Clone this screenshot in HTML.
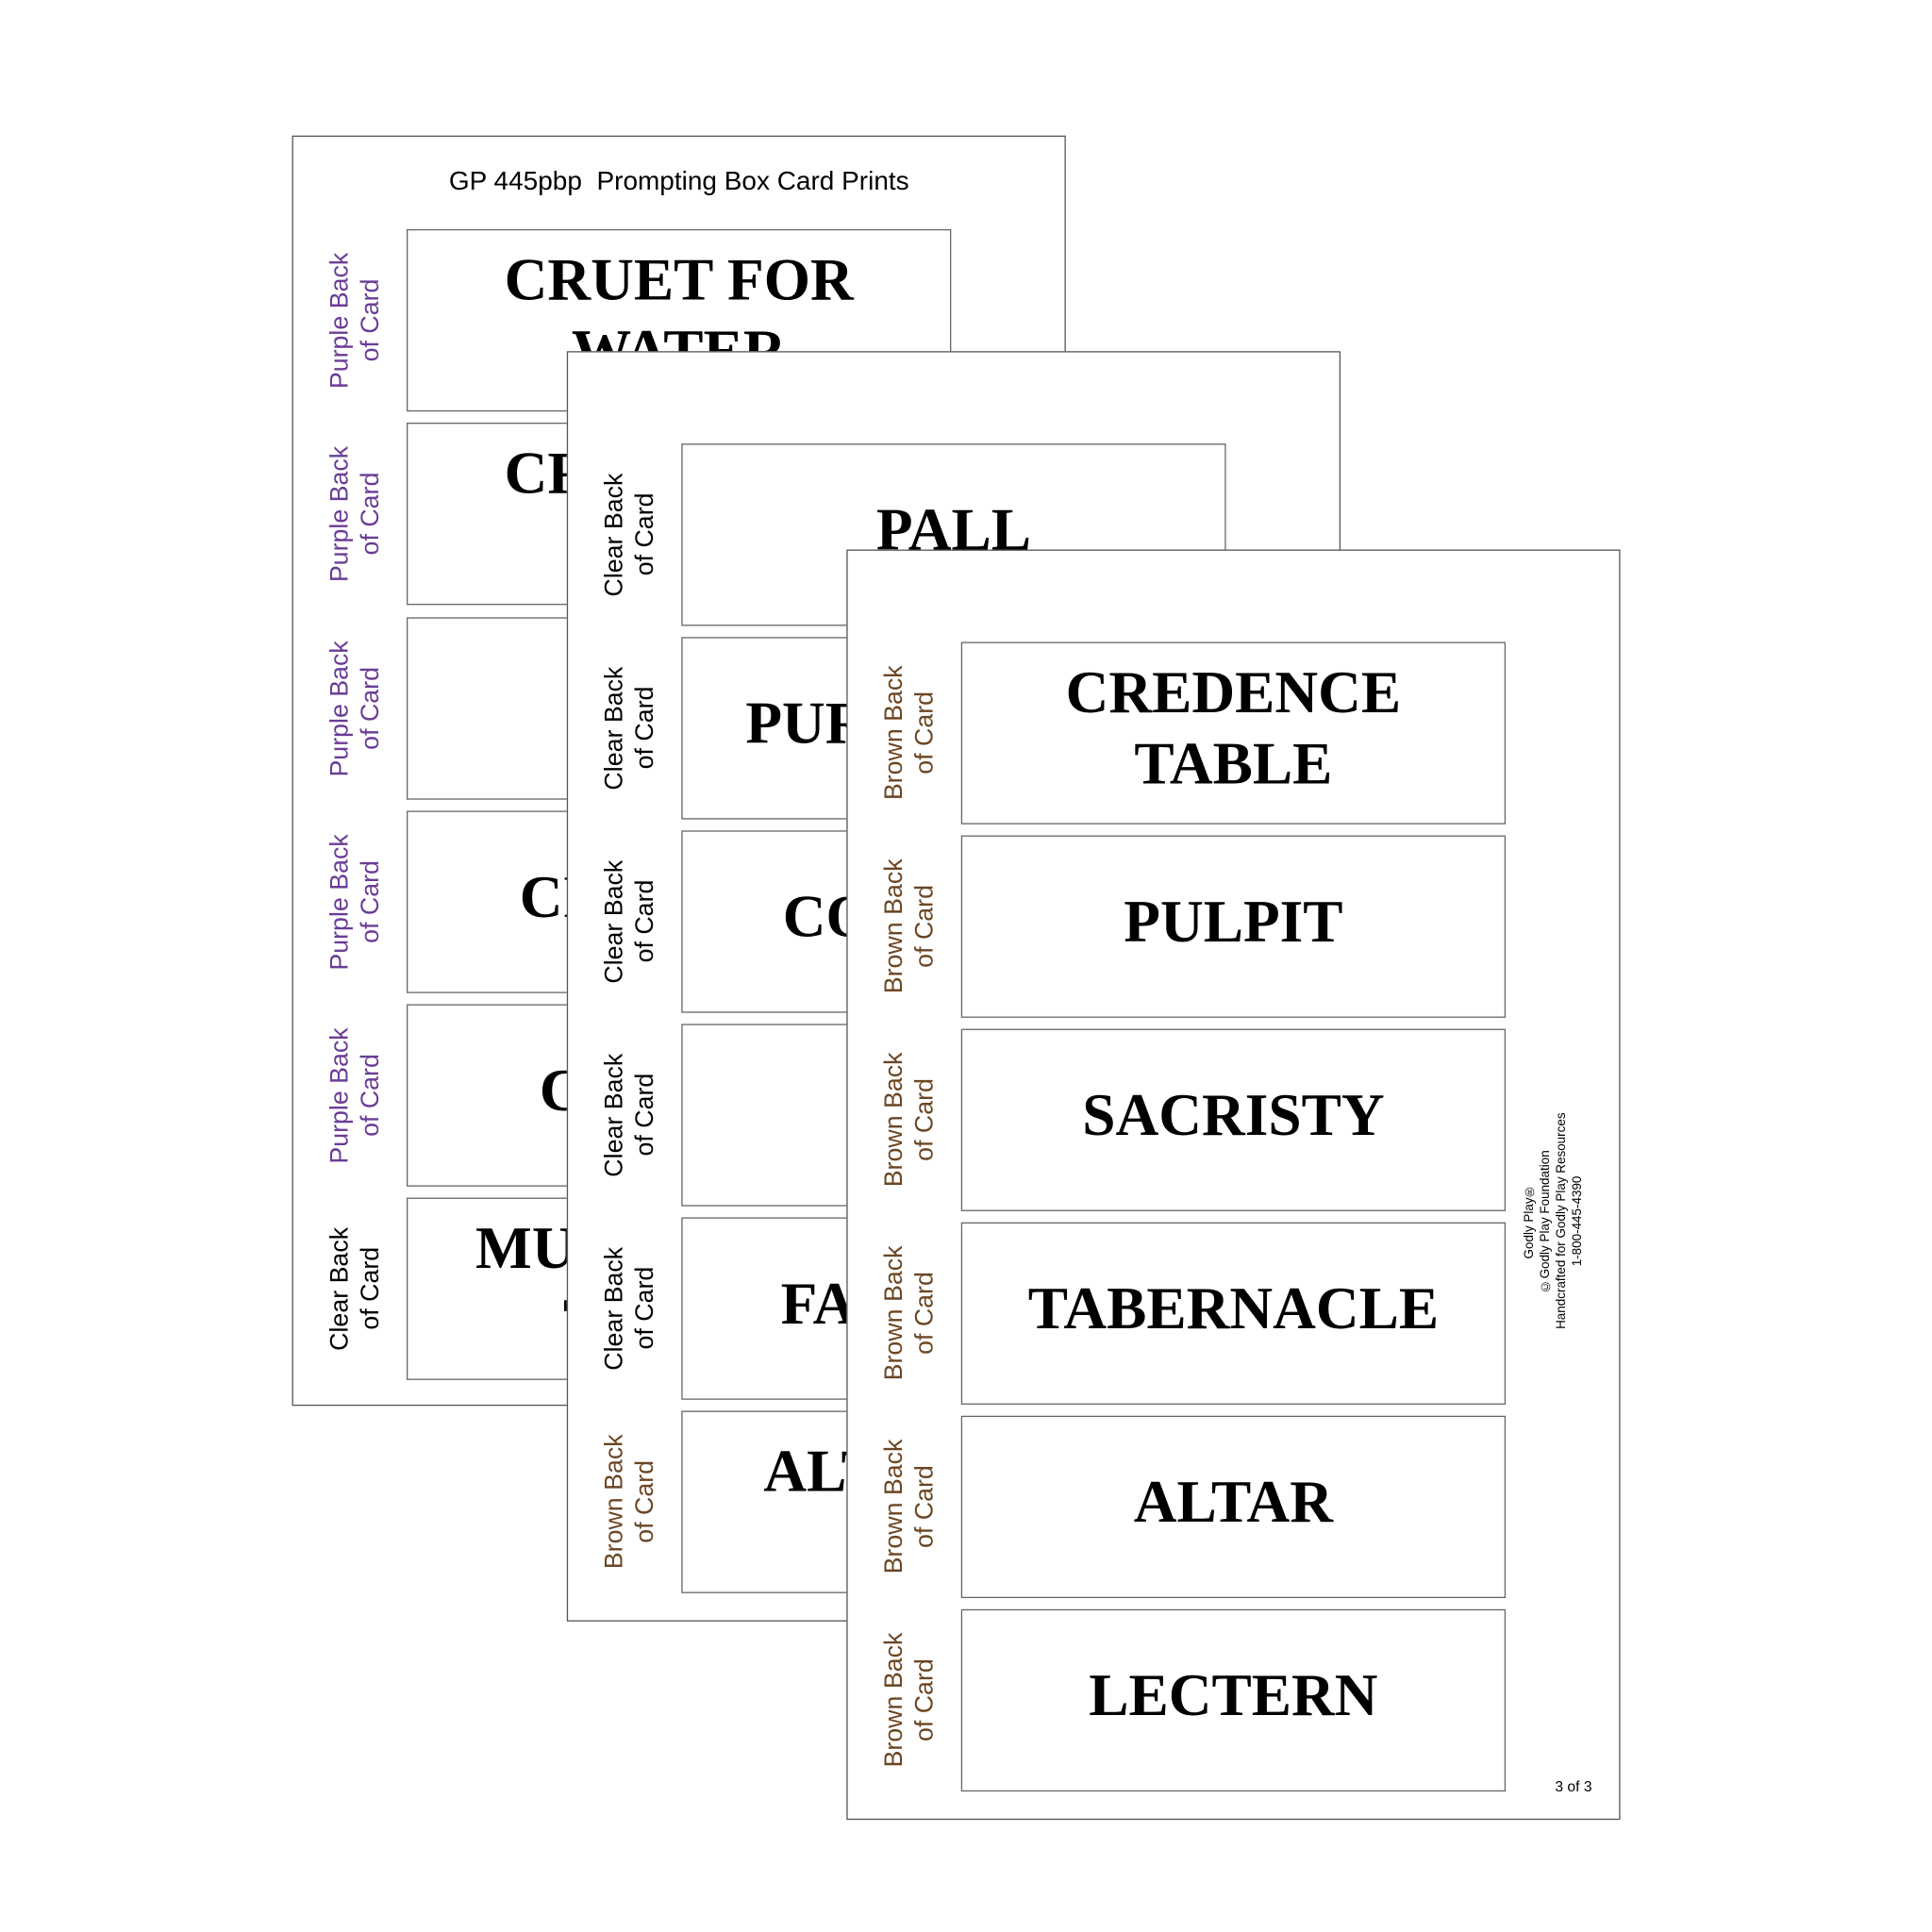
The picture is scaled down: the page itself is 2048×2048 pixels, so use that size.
<!DOCTYPE html>
<html><head><meta charset="utf-8"><style>
html,body{margin:0;padding:0;background:#fff;width:2048px;height:2048px;overflow:hidden}
#w{position:absolute;left:0;top:0;width:1568px;height:1568px;transform:scale(1.30612);transform-origin:0 0}
.page{position:absolute;width:628px;height:1031px;background:#fff;border:1px solid #555;box-sizing:border-box}
.card{position:absolute;left:92px;width:442px;height:148px;border:1.3px solid #666;box-sizing:border-box;display:flex;align-items:center;justify-content:center;text-align:center;font-family:"Liberation Serif",serif;font-weight:bold;font-size:48.5px;line-height:58px;color:#000;white-space:nowrap;padding-bottom:6px}
.card.top{align-items:flex-start;padding-top:20px}
.lab{position:absolute;left:20px;width:60px;height:148px;display:flex;align-items:center;justify-content:center}
.lab span{writing-mode:vertical-rl;transform:rotate(180deg);font-family:"Liberation Sans",sans-serif;font-size:20.5px;line-height:25px;text-align:center;white-space:nowrap}
.p{color:#6a3d96}.b{color:#6b4624}.c{color:#000}
</style></head><body><div id="w">

<div class="page" style="left:237px;top:110px">
<div style="position:absolute;left:0;width:626px;top:25px;text-align:center;font-family:'Liberation Sans',sans-serif;font-size:21px;"><span style="display:inline-block;transform:scaleX(1.02)">GP 445pbp&nbsp; Prompting Box Card Prints</span></div>
<div class="lab" style="top:75px"><span class="p">Purple Back<br>of Card</span></div>
<div class="card" style="top:75px">CRUET FOR<br>WATER</div>
<div class="lab" style="top:232px"><span class="p">Purple Back<br>of Card</span></div>
<div class="card" style="top:232px">CRUET FOR<br>WINE</div>
<div class="lab" style="top:390px"><span class="p">Purple Back<br>of Card</span></div>
<div class="card" style="top:390px"></div>
<div class="lab" style="top:547px"><span class="p">Purple Back<br>of Card</span></div>
<div class="card" style="top:547px">CIBORIUM</div>
<div class="lab" style="top:704px"><span class="p">Purple Back<br>of Card</span></div>
<div class="card" style="top:704px">CHALICE</div>
<div class="lab" style="top:861px"><span class="c">Clear Back<br>of Card</span></div>
<div class="card" style="top:861px">MUSICIAN'S S<br>TABLES</div>
</div>

<div class="page" style="left:460px;top:285px">
<div class="lab" style="top:74px"><span class="c">Clear Back<br>of Card</span></div>
<div class="card" style="top:74px">PALL</div>
<div class="lab" style="top:231px"><span class="c">Clear Back<br>of Card</span></div>
<div class="card" style="top:231px">PURIFICATOR</div>
<div class="lab" style="top:388px"><span class="c">Clear Back<br>of Card</span></div>
<div class="card" style="top:388px">CORPORAL</div>
<div class="lab" style="top:545px"><span class="c">Clear Back<br>of Card</span></div>
<div class="card" style="top:545px"></div>
<div class="lab" style="top:702px"><span class="c">Clear Back<br>of Card</span></div>
<div class="card" style="top:702px">FAIR LINEN</div>
<div class="lab" style="top:859px"><span class="b">Brown Back<br>of Card</span></div>
<div class="card top" style="top:859px">ALTAR CROS<br>STAND</div>
</div>

<div class="page" style="left:687px;top:446px">
<div class="lab" style="top:74px"><span class="b">Brown Back<br>of Card</span></div>
<div class="card" style="top:74px">CREDENCE<br>TABLE</div>
<div class="lab" style="top:231px"><span class="b">Brown Back<br>of Card</span></div>
<div class="card" style="top:231px">PULPIT</div>
<div class="lab" style="top:388px"><span class="b">Brown Back<br>of Card</span></div>
<div class="card" style="top:388px">SACRISTY</div>
<div class="lab" style="top:545px"><span class="b">Brown Back<br>of Card</span></div>
<div class="card" style="top:545px">TABERNACLE</div>
<div class="lab" style="top:702px"><span class="b">Brown Back<br>of Card</span></div>
<div class="card" style="top:702px">ALTAR</div>
<div class="lab" style="top:859px"><span class="b">Brown Back<br>of Card</span></div>
<div class="card" style="top:859px">LECTERN</div>
<div style="position:absolute;left:543px;top:444px;width:60px;height:200px;display:flex;align-items:center;justify-content:center">
<span style="writing-mode:vertical-rl;transform:rotate(180deg);font-family:'Liberation Sans',sans-serif;font-size:10.3px;line-height:13px;text-align:center;white-space:nowrap">Godly Play®<br>©Godly Play Foundation<br>Handcrafted for Godly Play Resources<br>1-800-445-4390</span></div>
<div style="position:absolute;left:574px;top:996px;font-family:'Liberation Sans',sans-serif;font-size:12px">3 of 3</div>
</div>

</div></body></html>
